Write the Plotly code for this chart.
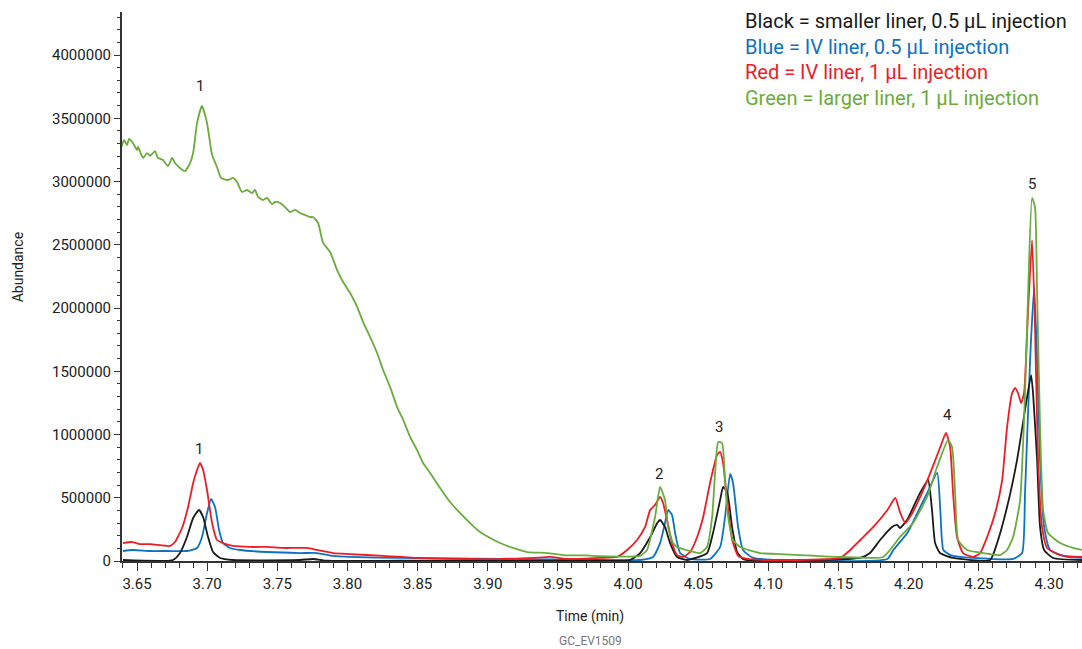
import plotly.graph_objects as go

# ---------------- data (time in min, abundance) ----------------
green_t = [3.639, 3.6407, 3.6429, 3.6443, 3.6471, 3.650, 3.6507, 3.6543, 3.6571, 3.6593, 3.6628, 3.665,
           3.6685, 3.6721, 3.675, 3.6771, 3.6806, 3.6842, 3.6878, 3.690, 3.6928, 3.6963, 3.6999, 3.7035,
           3.707, 3.7099, 3.7149, 3.7184, 3.7213, 3.7248, 3.7284, 3.732, 3.7341, 3.7363, 3.7398, 3.7427,
           3.7462, 3.7484, 3.752, 3.7555, 3.7591, 3.7627, 3.7662, 3.7698, 3.7734, 3.7755, 3.7791, 3.7826,
           3.7876, 3.7926, 3.7969, 3.8019, 3.8069, 3.8111, 3.8161, 3.8211, 3.8254, 3.8304, 3.8354, 3.8397,
           3.8447, 3.8496, 3.8539, 3.8589, 3.866, 3.8731, 3.8803, 3.8874, 3.8945, 3.9017, 3.9088, 3.918,
           3.928, 3.9422, 3.9565, 3.9707, 3.980, 3.9943, 4.0085, 4.0135, 4.0192, 4.0228, 4.0263, 4.0285,
           4.032, 4.0349, 4.0442, 4.0513, 4.0563, 4.0599, 4.062, 4.0642, 4.067, 4.0691, 4.0713, 4.0748,
           4.0798, 4.0941, 4.1083, 4.1226, 4.1511, 4.1817, 4.1938, 4.2031, 4.2131, 4.2202, 4.2281, 4.2309,
           4.2331, 4.2352, 4.2416, 4.253, 4.2651, 4.2701, 4.2744, 4.2794, 4.2829, 4.2851, 4.2879, 4.290,
           4.2915, 4.2936, 4.2958, 4.2993, 4.3079, 4.3172, 4.3235]
green_y = [3273000, 3328000, 3288000, 3336000, 3304000, 3249000, 3273000, 3186000, 3225000, 3202000, 3241000, 3186000,
           3170000, 3122000, 3186000, 3146000, 3107000, 3083000, 3146000, 3225000, 3462000, 3597000, 3462000, 3209000,
           3115000, 3028000, 3012000, 3028000, 2996000, 2917000, 2933000, 2909000, 2933000, 2877000, 2854000, 2870000,
           2822000, 2838000, 2830000, 2798000, 2759000, 2775000, 2751000, 2735000, 2719000, 2719000, 2672000, 2514000,
           2443000, 2300000, 2205000, 2119000, 2008000, 1889000, 1771000, 1644000, 1510000, 1375000, 1217000, 1115000,
           980000, 877000, 775000, 696000, 577000, 466000, 379000, 300000, 229000, 182000, 142000, 103000,
           71000, 63000, 45000, 45000, 38000, 35000, 40000, 87000, 348000, 585000, 482000, 269000,
           142000, 111000, 79000, 63000, 111000, 348000, 696000, 941000, 933000, 617000, 348000, 166000,
           111000, 63000, 55000, 47000, 32000, 32000, 190000, 300000, 506000, 743000, 957000, 901000,
           538000, 166000, 87000, 63000, 47000, 87000, 190000, 482000, 1328000, 2119000, 2870000, 2798000,
           2119000, 1059000, 403000, 221000, 142000, 103000, 87000]

red_t = [3.640, 3.6464, 3.6521, 3.6593, 3.6664, 3.6735, 3.6771, 3.6821, 3.6864, 3.690, 3.6928, 3.6949,
         3.6971, 3.6999, 3.7035, 3.707, 3.7113, 3.7184, 3.7306, 3.7427, 3.7541, 3.7712, 3.7783, 3.7897,
         3.8019, 3.8254, 3.8496, 3.8852, 3.9088, 3.9323, 3.9444, 3.9565, 3.980, 3.9921, 3.9993, 4.0064,
         4.0121, 4.0157, 4.0192, 4.0228, 4.0249, 4.0278, 4.0313, 4.0349, 4.0392, 4.0442, 4.0492, 4.0535,
         4.0584, 4.0634, 4.0656, 4.0677, 4.0706, 4.0742, 4.0785, 4.0849, 4.0963, 4.1226, 4.1511, 4.1583,
         4.1655, 4.1748, 4.1848, 4.1904, 4.194, 4.1976, 4.2026, 4.2082, 4.2154, 4.2225, 4.2266, 4.2295,
         4.2316, 4.2344, 4.2387, 4.2459, 4.2509, 4.2559, 4.2616, 4.2666, 4.2701, 4.2737, 4.2758, 4.2779,
         4.2801, 4.2822, 4.2851, 4.2879, 4.290, 4.2922, 4.295, 4.2986, 4.3079, 4.3235]
red_y = [142000, 150000, 134000, 134000, 126000, 119000, 150000, 261000, 427000, 617000, 719000, 775000,
         719000, 561000, 300000, 166000, 142000, 119000, 111000, 111000, 103000, 103000, 87000, 63000,
         55000, 40000, 24000, 16000, 16000, 24000, 32000, 16000, 24000, 32000, 87000, 166000,
         269000, 403000, 443000, 506000, 458000, 324000, 142000, 47000, 32000, 71000, 190000, 348000,
         617000, 838000, 862000, 775000, 482000, 166000, 40000, 16000, 8000, 8000, 24000, 87000,
         166000, 269000, 403000, 498000, 379000, 300000, 379000, 506000, 696000, 901000, 1012000, 901000,
         538000, 190000, 63000, 32000, 63000, 190000, 379000, 640000, 1059000, 1328000, 1368000, 1328000,
         1249000, 1328000, 1984000, 2537000, 1850000, 798000, 269000, 103000, 47000, 32000]

blue_t = [3.640, 3.6471, 3.6593, 3.6714, 3.6857, 3.6928, 3.6963, 3.6999, 3.7028, 3.7056, 3.7085, 3.7113,
          3.7163, 3.7234, 3.7427, 3.7662, 3.7783, 3.7897, 3.8019, 3.8375, 3.9088, 3.980, 4.0085, 4.0178,
          4.0228, 4.0263, 4.0285, 4.0313, 4.0335, 4.0371, 4.0442, 4.0584, 4.0656, 4.0691, 4.0727, 4.0748,
          4.0784, 4.0819, 4.0891, 4.1083, 4.1848, 4.189, 4.199, 4.2061, 4.2132, 4.2203, 4.2225, 4.2247,
          4.2297, 4.2459, 4.2744, 4.2808, 4.2829, 4.2865, 4.2894, 4.2915, 4.2936, 4.2965, 4.3008, 4.3129,
          4.3235]
blue_y = [79000, 87000, 79000, 79000, 79000, 103000, 190000, 379000, 490000, 427000, 245000, 142000,
          103000, 87000, 71000, 63000, 63000, 40000, 32000, 24000, 16000, 8000, 8000, 32000,
          142000, 300000, 403000, 364000, 221000, 63000, 16000, 16000, 111000, 348000, 688000, 617000,
          269000, 87000, 24000, 8000, 16000, 87000, 221000, 379000, 538000, 696000, 403000, 87000,
          47000, 24000, 16000, 63000, 538000, 1589000, 2166000, 1589000, 798000, 269000, 87000, 32000,
          24000]

black_t = [3.640, 3.6757, 3.6806, 3.6856, 3.690, 3.6942, 3.6971, 3.7006, 3.7042, 3.7092, 3.7184, 3.7662,
           3.7755, 3.7855, 3.8375, 3.980, 4.0015, 4.0086, 4.0158, 4.0208, 4.0228, 4.0263, 4.0299, 4.0349,
           4.042, 4.0563, 4.0605, 4.0656, 4.0677, 4.0706, 4.0741, 4.0777, 4.0819, 4.0891, 4.1653, 4.1724,
           4.1796, 4.1881, 4.1917, 4.1938, 4.1988, 4.2081, 4.2138, 4.2166, 4.2188, 4.2223, 4.2316, 4.258,
           4.263, 4.2701, 4.2772, 4.2829, 4.2872, 4.2886, 4.2915, 4.2936, 4.2965, 4.3029, 4.3235]
black_y = [8000, 8000, 63000, 190000, 340000, 403000, 348000, 190000, 71000, 24000, 8000, 8000,
           16000, 2000, 2000, 2000, 8000, 63000, 190000, 300000, 324000, 269000, 142000, 32000,
           8000, 63000, 221000, 482000, 585000, 545000, 269000, 71000, 16000, 2000, 24000, 63000,
           166000, 269000, 285000, 261000, 324000, 538000, 640000, 403000, 142000, 63000, 24000, 8000,
           142000, 427000, 798000, 1194000, 1470000, 1328000, 798000, 269000, 87000, 24000, 8000]

peak_labels = ["1", "1", "2", "3", "4", "5"]
peak_label_t = [3.6949, 3.6942, 4.0221, 4.0648, 4.2273, 4.2879]
peak_label_y = [3755000, 885000, 690000, 1059000, 1154000, 2980000]

legend_texts = ["Black = smaller liner, 0.5 \u00b5L injection",
                "Blue = IV liner, 0.5 \u00b5L injection",
                "Red = IV liner, 1 \u00b5L injection",
                "Green = larger liner, 1 \u00b5L injection"]

x_tick_vals = [3.65, 3.70, 3.75, 3.80, 3.85, 3.90, 3.95, 4.00, 4.05, 4.10, 4.15, 4.20, 4.25, 4.30]
x_tick_text = ["3.65", "3.70", "3.75", "3.80", "3.85", "3.90", "3.95", "4.00", "4.05", "4.10",
               "4.15", "4.20", "4.25", "4.30"]
y_tick_vals = [0, 500000, 1000000, 1500000, 2000000, 2500000, 3000000, 3500000, 4000000]
y_tick_text = ["0", "500000", "1000000", "1500000", "2000000", "2500000", "3000000", "3500000", "4000000"]

# ---------------- styling ----------------
C_BLACK = "#1a1a1a"
C_BLUE = "#0b72c4"
C_RED = "#ee1c25"
C_GREEN = "#6aac3c"
FONT = "Roboto, 'Noto Sans', sans-serif"

fig = go.Figure()
series = [(blue_t, blue_y, C_BLUE, "Blue"), (black_t, black_y, C_BLACK, "Black"),
          (red_t, red_y, C_RED, "Red"), (green_t, green_y, C_GREEN, "Green")]
for t, y, c, n in series:
    fig.add_trace(go.Scatter(x=t, y=y, mode="lines", name=n,
                             line=dict(color=c, width=1.8, shape="spline", smoothing=0.5),
                             hoverinfo="x+y", showlegend=False))

annotations = []
for txt, t, y in zip(peak_labels, peak_label_t, peak_label_y):
    annotations.append(dict(x=t, y=y, xref="x", yref="y", text=txt, showarrow=False,
                            font=dict(family=FONT, size=15, color="#222222")))

legend_colors = [C_BLACK, C_BLUE, C_RED, C_GREEN]
legend_y = [0.9836, 0.9362, 0.8907, 0.8434]
for txt, col, yy in zip(legend_texts, legend_colors, legend_y):
    annotations.append(dict(x=0.647, y=yy, xref="paper", yref="paper", text=txt, showarrow=False,
                            xanchor="left", yanchor="middle",
                            font=dict(family=FONT, size=20, color=col)))

annotations.append(dict(x=0.4875, y=-0.102, xref="paper", yref="paper", text="Time (min)",
                        showarrow=False, xanchor="center", yanchor="middle",
                        font=dict(family=FONT, size=14, color="#222222")))
annotations.append(dict(x=0.4875, y=-0.1457, xref="paper", yref="paper", text="GC_EV1509",
                        showarrow=False, xanchor="center", yanchor="middle",
                        font=dict(family=FONT, size=12, color="#777777")))
annotations.append(dict(x=-0.108, y=0.5355, xref="paper", yref="paper", text="Abundance",
                        showarrow=False, textangle=-90, xanchor="center", yanchor="middle",
                        font=dict(family=FONT, size=14, color="#222222")))

fig.update_layout(
    width=1082, height=649,
    margin=dict(l=122, r=0, t=12, b=88),
    paper_bgcolor="white", plot_bgcolor="white",
    font=dict(family=FONT, size=15, color="#222222"),
    annotations=annotations,
    showlegend=False,
    xaxis=dict(range=[3.6393, 4.3235], tickmode="array", tickvals=x_tick_vals, ticktext=x_tick_text,
               showgrid=False, zeroline=False, showline=True, linecolor="#333333", linewidth=2,
               ticks="outside", ticklen=8, tickwidth=1.2, tickcolor="#333333",
               tickfont=dict(family=FONT, size=15, color="#222222"),
               minor=dict(dtick=0.01, tick0=3.65, ticks="outside", ticklen=5, tickwidth=1,
                          tickcolor="#333333", showgrid=False)),
    yaxis=dict(range=[0, 4340000], tickmode="array", tickvals=y_tick_vals, ticktext=y_tick_text,
               showgrid=False, zeroline=False, showline=True, linecolor="#333333", linewidth=2,
               ticks="outside", ticklen=6, tickwidth=1.2, tickcolor="#333333",
               tickfont=dict(family=FONT, size=15, color="#222222"),
               minor=dict(dtick=100000, tick0=0, ticks="outside", ticklen=3, tickwidth=1,
                          tickcolor="#333333", showgrid=False)),
)

fig.write_html("out.html", config={"displayModeBar": False},
               post_script="document.body.style.margin='0';document.body.style.overflow='hidden';")
